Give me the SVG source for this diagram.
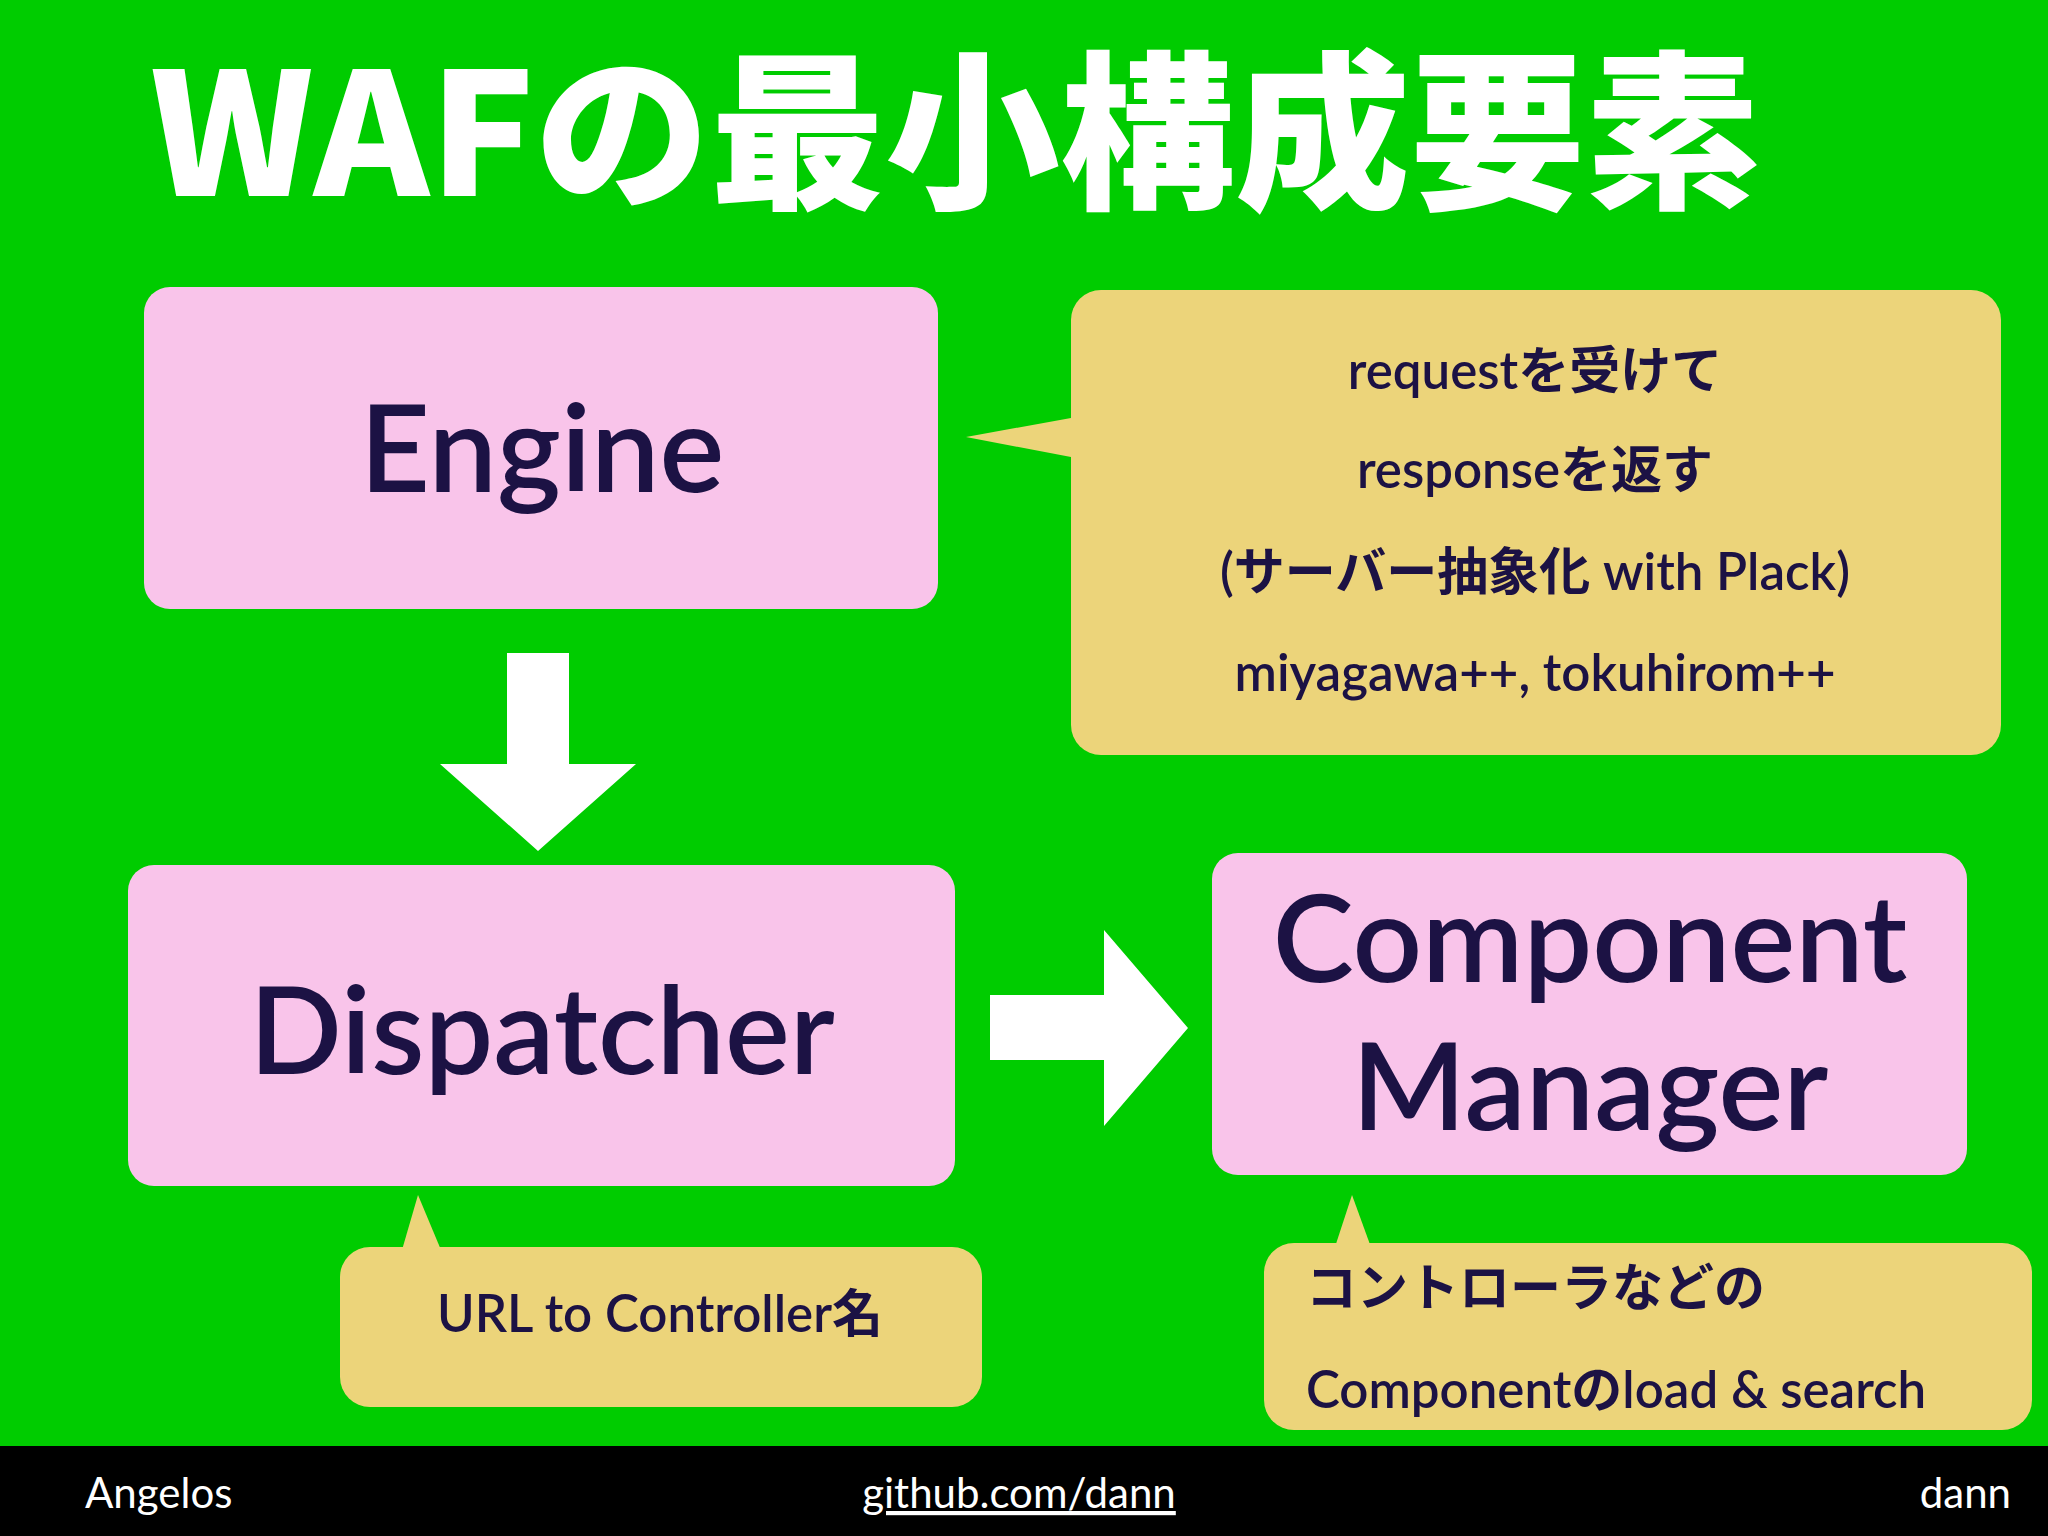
<svg xmlns="http://www.w3.org/2000/svg" width="2048" height="1536" viewBox="0 0 2048 1536">
<style>
.box{fill:#f9c4ea}
.bub{fill:#ecd47a}
.big{font-family:Lato,"Noto Sans CJK JP",sans-serif;font-size:122px;font-weight:600;fill:#1c1244;text-anchor:middle}
.t{font-family:Lato,"Noto Sans CJK JP",sans-serif;font-size:51px;font-weight:600;fill:#1c1244}
.f{font-family:Lato,"Noto Sans",sans-serif;font-size:42px;fill:#fff}
.arr{fill:#fff}
</style>
<rect width="2048" height="1536" fill="#00cc00"/>
<text x="150" y="196" font-family="'Noto Sans CJK JP',sans-serif" font-weight="900" font-size="170" fill="#fff" textLength="1610" lengthAdjust="spacingAndGlyphs">WAFの最小構成要素</text>
<g id="engine"><rect class="box" x="144" y="287" width="794" height="322" rx="26"/><text class="big" x="542" y="492">Engine</text></g>
<g id="engine-note"><path class="bub" d="M966,437 L1071,418 L1071,457 Z"/><rect class="bub" x="1071" y="290" width="930" height="465" rx="30"/>
<g class="t" text-anchor="middle"><text x="1535" y="389">requestを受けて</text><text x="1535" y="488">responseを返す</text><text x="1535" y="590">(サーバー抽象化 with Plack)</text><text x="1535" y="691">miyagawa++, tokuhirom++</text></g></g>
<g id="dispatcher"><rect class="box" x="128" y="865" width="827" height="321" rx="26"/><text class="big" x="542" y="1074">Dispatcher</text></g>
<g id="dispatcher-note"><path class="bub" d="M418,1195 L402,1250 L441,1250 Z"/><rect class="bub" x="340" y="1247" width="642" height="160" rx="30"/><text class="t" x="660" y="1332" text-anchor="middle">URL to Controller名</text></g>
<g id="component"><rect class="box" x="1212" y="853" width="755" height="322" rx="26"/><text class="big" x="1590" y="982">Component</text><text class="big" x="1590" y="1130">Manager</text></g>
<g id="component-note"><path class="bub" d="M1352,1195 L1334,1250 L1372,1250 Z"/><rect class="bub" x="1264" y="1243" width="768" height="187" rx="30"/><text class="t" x="1306" y="1306">コントローラなどの</text><text class="t" x="1306" y="1408">Componentのload &amp; search</text></g>
<g id="connectors">
<path class="arr" d="M507,653 H569 V764 H636 L538,851 L440,764 H507 Z"/>
<path class="arr" d="M990,995 H1104 V930 L1188,1028 L1104,1126 V1060 H990 Z"/>
</g>
<rect y="1446" width="2048" height="90" fill="#000"/>
<text class="f" x="85" y="1508">Angelos</text>
<text class="f" x="1019" y="1508" text-anchor="middle" text-decoration="underline">github.com/dann</text>
<text class="f" x="2011" y="1508" text-anchor="end">dann</text>
</svg>
